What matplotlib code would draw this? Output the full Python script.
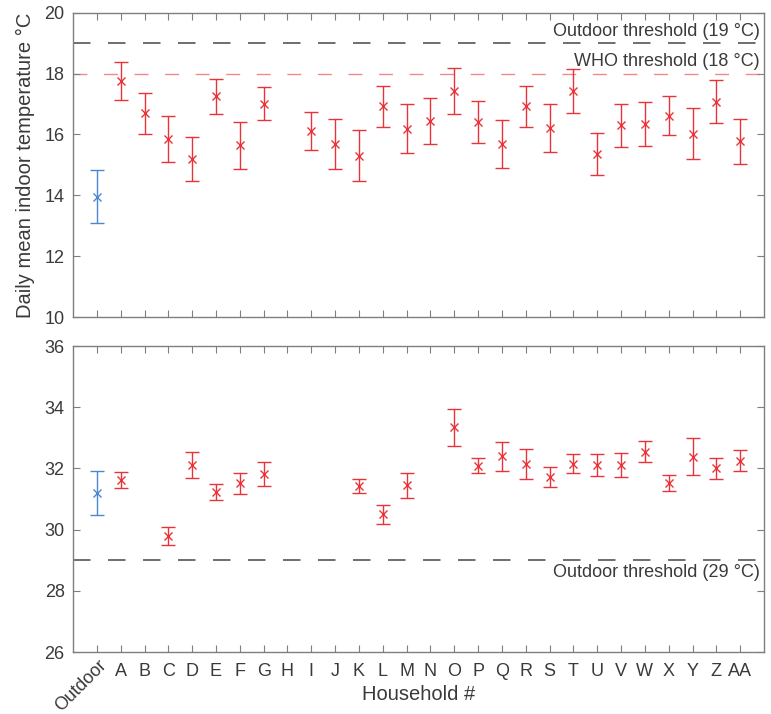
import matplotlib.pyplot as plt
import matplotlib.transforms as mtransforms
import numpy as np

plt.rcParams['font.family'] = ['Liberation Sans', 'DejaVu Sans']

# categories
households = ['Outdoor', 'A', 'B', 'C', 'D', 'E', 'F', 'G', 'H', 'I', 'J', 'K', 'L', 'M',
              'N', 'O', 'P', 'Q', 'R', 'S', 'T', 'U', 'V', 'W', 'X', 'Y', 'Z', 'AA']

# winter (top): mean and half-width of error bar, nan = no data
winter_mean = [13.96, 17.75, 16.70, 15.85, 15.19, 17.25, 15.64, 17.01, np.nan, 16.12,
               15.69, 15.30, 16.92, 16.19, 16.43, 17.42, 16.40, 15.69, 16.92, 16.21,
               17.42, 15.36, 16.30, 16.34, 16.62, 16.02, 17.07, 15.77]
winter_err = [0.87, 0.63, 0.67, 0.75, 0.73, 0.57, 0.78, 0.54, np.nan, 0.63,
              0.83, 0.84, 0.66, 0.80, 0.76, 0.75, 0.69, 0.80, 0.66, 0.79,
              0.72, 0.69, 0.71, 0.73, 0.65, 0.84, 0.71, 0.74]

# summer (bottom)
summer_mean = [31.20, 31.62, np.nan, 29.79, 32.11, 31.22, 31.51, 31.81, np.nan, np.nan,
               np.nan, 31.43, 30.50, 31.45, np.nan, 33.34, 32.09, 32.40, 32.14, 31.73,
               32.16, 32.11, 32.11, 32.55, 31.53, 32.38, 32.00, 32.25]
summer_err = [0.73, 0.26, np.nan, 0.29, 0.43, 0.26, 0.33, 0.39, np.nan, np.nan,
              np.nan, 0.23, 0.32, 0.41, np.nan, 0.61, 0.24, 0.47, 0.48, 0.33,
              0.30, 0.35, 0.38, 0.35, 0.27, 0.61, 0.34, 0.34]

winter_thresholds = [19, 18]
summer_threshold = 29

RED = '#ea3338'
BLUE = '#4a88d2'
GRAY = '#7f7f7f'
TXT = '#3a3a3a'

x = np.arange(1, len(households) + 1)

fig = plt.figure(figsize=(7.71, 7.14), dpi=100)
ax1 = fig.add_axes([0.0947, 0.556, 0.8963, 0.4262])
ax2 = fig.add_axes([0.0947, 0.0868, 0.8963, 0.4286])


def draw(ax, mean, err):
    mean = np.array(mean)
    err = np.array(err)
    ax.errorbar(x[:1], mean[:1], yerr=err[:1], fmt='x', color=BLUE, ms=6, mew=1,
                elinewidth=1, capsize=5, capthick=1)
    ax.errorbar(x[1:], mean[1:], yerr=err[1:], fmt='x', color=RED, ms=6, mew=1,
                elinewidth=1, capsize=5, capthick=1)
    ax.set_xlim(0, len(households) + 1)
    ax.set_xticks(x)
    for s in ax.spines.values():
        s.set_color(GRAY)
        s.set_linewidth(1)
    ax.tick_params(direction='in', length=5, width=0.8, color=GRAY, top=True, right=True,
                   labelsize=13, labelcolor=TXT)
    ax.tick_params(axis='y', pad=6)
    ax.tick_params(axis='x', pad=8)


draw(ax1, winter_mean, winter_err)
ax1.axhline(winter_thresholds[0], color='#555555', lw=1.2, dashes=(10.5, 10.5), zorder=0)
ax1.axhline(winter_thresholds[1], color='#f08a8a', lw=1.0, dashes=(10, 12), zorder=0)
ax1.text(0.994, winter_thresholds[0] + 0.1, 'Outdoor threshold (19 °C)', transform=ax1.get_yaxis_transform(),
         ha='right', va='bottom', fontsize=13, color=TXT)
ax1.text(0.994, winter_thresholds[1] + 0.12, 'WHO threshold (18 °C)', transform=ax1.get_yaxis_transform(),
         ha='right', va='bottom', fontsize=13, color=TXT)
ax1.set_ylim(10, 20)
ax1.set_yticks([10, 12, 14, 16, 18, 20])
ax1.set_xticklabels([])
ax1.set_ylabel('Daily mean indoor temperature °C', fontsize=14.5, color=TXT, labelpad=7)

draw(ax2, summer_mean, summer_err)
ax2.axhline(summer_threshold, color='#555555', lw=1.2, dashes=(10.5, 10.5), zorder=0)
ax2.text(0.994, summer_threshold - 0.12, 'Outdoor threshold (29 °C)', transform=ax2.get_yaxis_transform(),
         ha='right', va='top', fontsize=13, color=TXT)
ax2.set_ylim(26, 36)
ax2.set_yticks([26, 28, 30, 32, 34, 36])
ax2.set_xticklabels(households)
lbl = ax2.get_xticklabels()[0]
lbl.set_rotation(45)
lbl.set_rotation_mode('anchor')
lbl.set_ha('right')
lbl.set_va('center')
lbl.set_transform(lbl.get_transform() + mtransforms.ScaledTranslation(0.07, 0.0, fig.dpi_scale_trans))
ax2.set_xlabel('Household #', fontsize=14.5, color=TXT)
ax2.xaxis.set_label_coords(0.5, -0.108)

fig.savefig('out.png', dpi=100)
